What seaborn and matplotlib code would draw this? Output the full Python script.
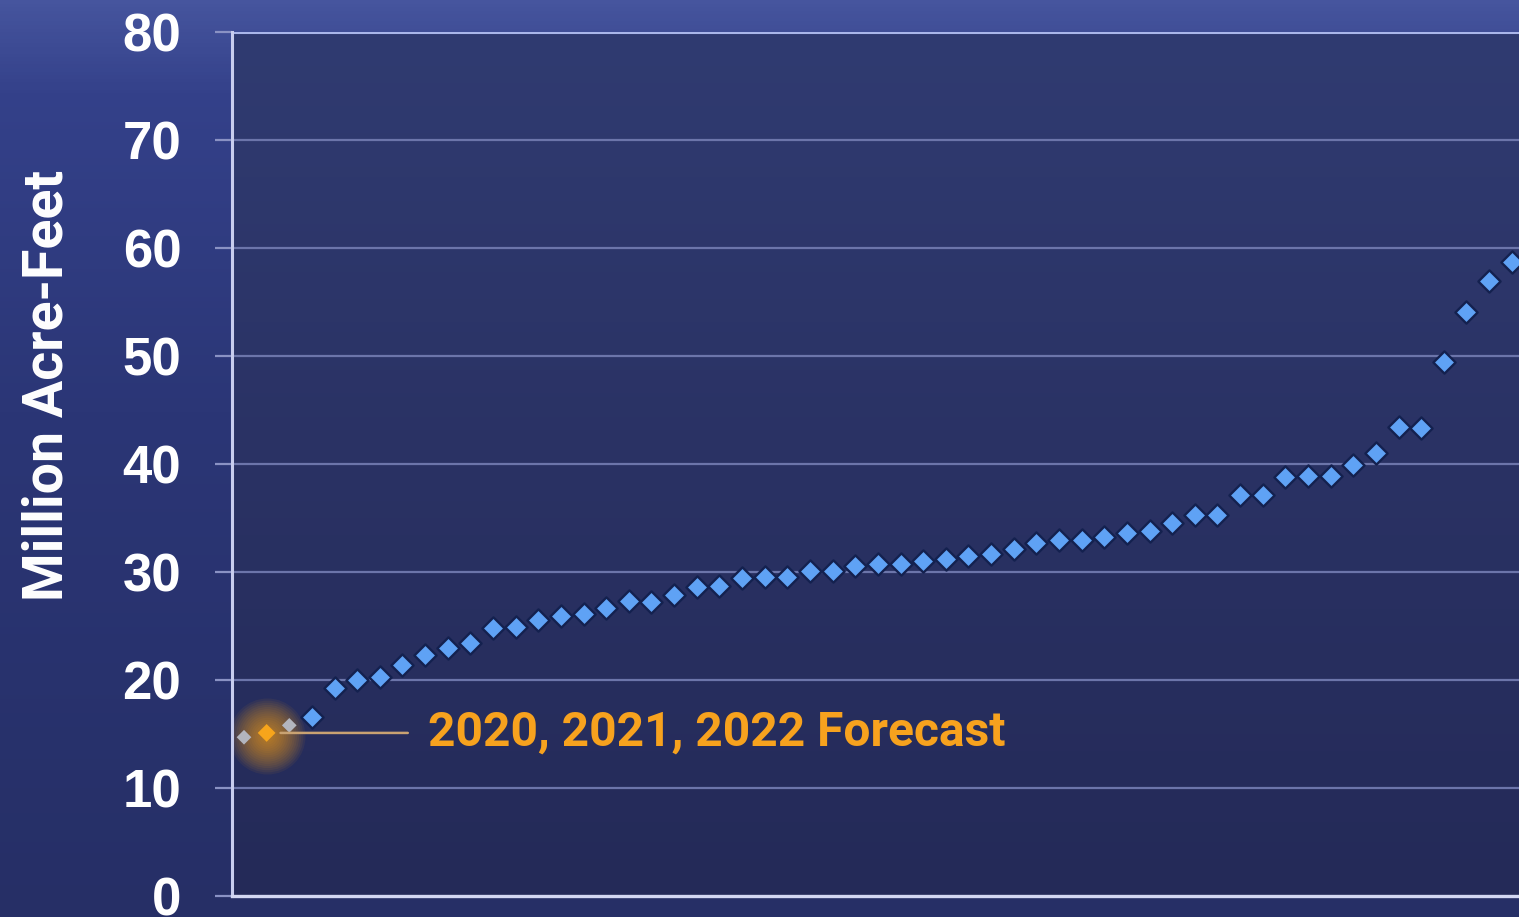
import numpy as np
import pandas as pd
import matplotlib
matplotlib.use("Agg")
import matplotlib.pyplot as plt
import seaborn as sns
from matplotlib.colors import LinearSegmentedColormap

# ---------------- data ----------------
values = [14.7, 15.1, 15.8, 16.6, 19.3, 20.0, 20.3, 21.4, 22.3, 23.0,
          23.4, 24.8, 24.9, 25.6, 25.9, 26.1, 26.7, 27.3, 27.2, 27.9,
          28.6, 28.7, 29.4, 29.5, 29.5, 30.1, 30.1, 30.6, 30.7, 30.7,
          31.0, 31.2, 31.5, 31.7, 32.1, 32.7, 33.0, 33.0, 33.2, 33.6,
          33.8, 34.5, 35.3, 35.3, 37.1, 37.1, 38.8, 38.9, 38.9, 39.9,
          41.0, 43.4, 43.3, 49.4, 54.1, 56.9, 58.7]
ranks = list(range(len(values)))
kinds = ["gray", "forecast", "gray"] + ["history"] * (len(values) - 3)
yticks = [0, 10, 20, 30, 40, 50, 60, 70, 80]
ylabel = "Million Acre-Feet"
annotation_text = "2020, 2021, 2022 Forecast"

df = pd.DataFrame({"rank": ranks, "value": values, "kind": kinds})

# ---------------- style ----------------
sns.set_theme(style="dark")
plt.rcParams["font.family"] = ["Roboto", "DejaVu Sans"]

W, H = 1519, 917
fig = plt.figure(figsize=(W / 100, H / 100), dpi=100)

# figure background gradient
bg = fig.add_axes([0, 0, 1, 1], zorder=-10)
bg_cmap = LinearSegmentedColormap.from_list(
    "bg", [(0.0, "#262f66"), (0.55, "#2b3676"), (0.9, "#34418a"), (1.0, "#46559e")])
grad = np.linspace(0, 1, 256).reshape(-1, 1)
bg.imshow(grad, aspect="auto", extent=[0, 1, 0, 1], origin="lower", cmap=bg_cmap)
bg.set_axis_off()

x0 = 232 / W
y0 = (H - 896) / H
ax = fig.add_axes([x0, y0, 1 - x0, (896 - 32) / H])
ax.set_facecolor("none")

# plot-area gradient
pa_cmap = LinearSegmentedColormap.from_list("pa", ["#242a58", "#2a3264", "#303b71"])
ax.imshow(grad, aspect="auto", extent=[0, 1, 0, 1], origin="lower", cmap=pa_cmap,
          transform=ax.transAxes, zorder=0)

# gridlines
for t in yticks[1:-1]:
    ax.axhline(t, color="#6c75aa", lw=1.6, zorder=1)
ax.axhline(yticks[-1], color="#aab6ea", lw=2.2, zorder=1)

# glow around the forecast point
fc = df[df["kind"] == "forecast"]
for r in np.linspace(38, 6, 16):
    ax.scatter(fc["rank"], fc["value"] - 0.3, s=(r * 0.72 * 2) ** 2, color="#f2a01a",
               alpha=0.065, linewidths=0, zorder=2)

# markers
sns.scatterplot(data=df[df["kind"] == "history"], x="rank", y="value", marker="D",
                s=128, color="#5fa2f5", edgecolor="#14214f", linewidth=1.7,
                zorder=4, ax=ax, legend=False)
sns.scatterplot(data=df[df["kind"] == "gray"], x="rank", y="value", marker="D",
                s=56, color="#b3b5be", edgecolor="none", linewidth=0,
                zorder=4, ax=ax, legend=False)
sns.scatterplot(data=fc, x="rank", y="value", marker="D",
                s=82, color="#f7a51b", edgecolor="none", linewidth=0,
                zorder=5, ax=ax, legend=False)

# annotation
ax.annotate(annotation_text, xy=(fc["rank"].iloc[0], fc["value"].iloc[0]),
            xytext=(116, 0), textcoords="offset points", ha="left", va="center",
            color="#f7a21e", fontsize=34.5, fontweight="bold", fontfamily="Roboto",
            arrowprops=dict(arrowstyle="-", color="#c9a272", lw=1.8,
                            shrinkA=12, shrinkB=10, relpos=(0, 0.5)),
            zorder=6)

# axes
ax.set_xlim(-0.53, 56.32)
ax.set_ylim(0, 80)
ax.set_yticks(yticks)
ax.set_yticklabels([str(t) for t in yticks])
ax.set_xticks([])
ax.set_xlabel("")
ax.grid(False)

for side in ["top", "right"]:
    ax.spines[side].set_visible(False)
ax.spines["left"].set_color("#c8cdee")
ax.spines["left"].set_linewidth(2.2)
ax.spines["left"].set_zorder(3)
ax.spines["bottom"].set_color("#d3d7f2")
ax.spines["bottom"].set_linewidth(2.4)
ax.spines["bottom"].set_zorder(3)

ax.tick_params(axis="y", which="major", left=True, length=12.5, width=1.6,
               color="#8a92c4", pad=24, labelsize=38, labelcolor="white")
for lab in ax.get_yticklabels():
    lab.set_fontfamily(["Liberation Sans", "DejaVu Sans"])
    lab.set_fontweight("bold")

ax.set_ylabel(ylabel, fontsize=40, fontweight="bold", color="white",
              fontfamily="Roboto")
ax.yaxis.set_label_coords(-0.123, 0.591)

fig.savefig("out.png", dpi=100)
